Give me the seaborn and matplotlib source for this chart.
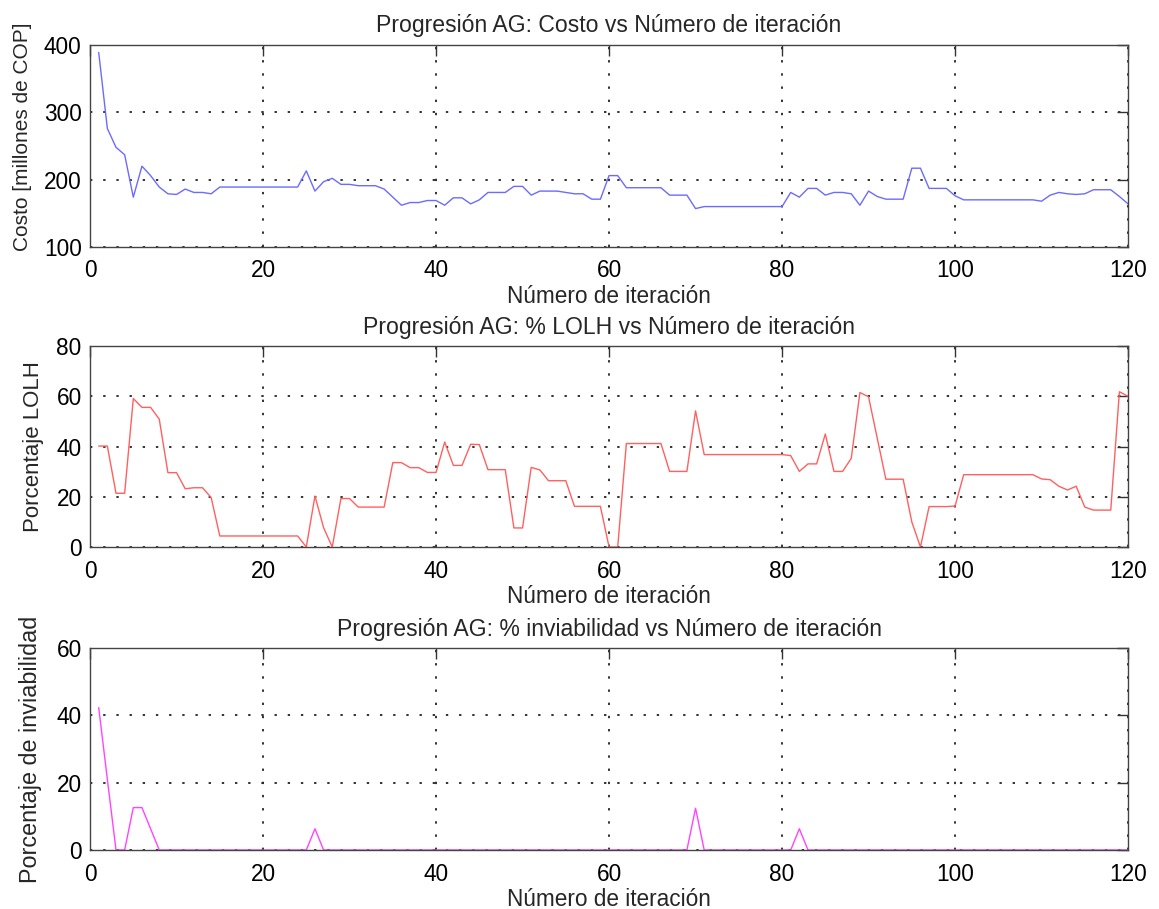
import numpy as np
import pandas as pd
import matplotlib
matplotlib.use("Agg")
import matplotlib.pyplot as plt
import seaborn as sns

iteraciones = list(range(1, 121))

costo = [389, 276, 248, 237, 174, 220, 206, 189, 179, 178,
         186, 181, 181, 179, 189, 189, 189, 189, 189, 189,
         189, 189, 189, 189, 213, 183, 197, 202, 193, 193,
         191, 191, 191, 186, 174, 162, 166, 166, 169, 169,
         162, 173, 173, 164, 170, 181, 181, 181, 190, 190,
         177, 183, 183, 183, 181, 179, 179, 171, 171, 206,
         206, 188, 188, 188, 188, 188, 177, 177, 177, 157,
         160, 160, 160, 160, 160, 160, 160, 160, 160, 160,
         181, 174, 187, 187, 177, 181, 181, 179, 162, 183,
         175, 171, 171, 171, 217, 217, 187, 187, 187, 176,
         170, 170, 170, 170, 170, 170, 170, 170, 170, 168,
         177, 181, 179, 178, 179, 185, 185, 185, 175, 164]

lolh = [40.2, 40.2, 21.4, 21.4, 59.1, 55.6, 55.6, 50.9, 29.6, 29.6,
        23.2, 23.6, 23.6, 19.7, 4.4, 4.4, 4.4, 4.4, 4.4, 4.4,
        4.4, 4.4, 4.4, 4.4, 0.0, 20.3, 7.7, 0.0, 19.3, 19.3,
        15.9, 15.9, 15.9, 15.9, 33.6, 33.6, 31.6, 31.6, 29.7, 29.7,
        41.8, 32.5, 32.5, 40.9, 40.8, 30.8, 30.8, 30.8, 7.6, 7.6,
        31.7, 30.7, 26.4, 26.4, 26.4, 16.2, 16.2, 16.2, 16.2, 0.0,
        0.0, 41.2, 41.2, 41.2, 41.2, 41.2, 30.1, 30.1, 30.1, 54.2,
        36.8, 36.8, 36.8, 36.8, 36.8, 36.8, 36.8, 36.8, 36.8, 36.8,
        36.4, 30.1, 33.1, 33.1, 45.0, 30.1, 30.1, 35.3, 61.5, 59.8,
        43.4, 27.0, 27.0, 27.0, 10.0, 0.0, 16.1, 16.1, 16.1, 16.3,
        28.8, 28.8, 28.8, 28.8, 28.8, 28.8, 28.8, 28.8, 28.8, 27.1,
        26.8, 24.2, 22.7, 24.2, 15.9, 14.7, 14.7, 14.7, 61.8, 60.0]

inviabilidad = [0.0] * 120
for it, v in [(1, 42.3), (2, 21.0), (5, 12.6), (6, 12.6), (7, 6.3),
              (26, 6.3), (70, 12.4), (82, 6.3)]:
    inviabilidad[it - 1] = v

titulos = ["Progresión AG: Costo vs Número de iteración",
           "Progresión AG: % LOLH vs Número de iteración",
           "Progresión AG: % inviabilidad vs Número de iteración"]
ylabels = ["Costo [millones de COP]", "Porcentaje LOLH", "Porcentaje de inviabilidad"]
xlabel = "Número de iteración"
series = [costo, lolh, inviabilidad]
colores = ["#6b6bff", "#ff6060", "#ff44ff"]
ylims = [(100, 400), (0, 80), (0, 60)]
yticks = [[100, 200, 300, 400], [0, 20, 40, 60, 80], [0, 20, 40, 60]]
xticks = [0, 20, 40, 60, 80, 100, 120]

sns.set_theme(style="white")
plt.rcParams["font.family"] = ["Liberation Sans", "DejaVu Sans"]

fig = plt.figure(figsize=(11.59, 9.09), dpi=100)
positions = [[0.0777, 0.7283, 0.8956, 0.2222],
             [0.0777, 0.3982, 0.8956, 0.2211],
             [0.0777, 0.0649, 0.8956, 0.2222]]
ylabel_sizes = [15.0, 16.0, 16.8]
ylabel_y = [0.545, 0.5, 0.5]
ylabel_x = [-0.056, -0.044, -0.046]

fs = 16.3
for i in range(3):
    ax = fig.add_axes(positions[i])
    df = pd.DataFrame({"it": iteraciones, "v": series[i]})
    sns.lineplot(data=df, x="it", y="v", ax=ax, color=colores[i], linewidth=1.0)
    ax.set_xlim(0, 120)
    ax.set_ylim(*ylims[i])
    ax.set_xticks(xticks)
    ax.set_yticks(yticks[i])
    ax.grid(True, linestyle=(0, (1.3, 6.0)), color="#222222", linewidth=1.3)
    ax.tick_params(direction="in", length=8, width=1, top=True, right=True,
                   labelsize=fs, colors="#333333", labelcolor="black", pad=6)
    ax.tick_params(axis="x", pad=9)
    for s in ax.spines.values():
        s.set_color("#444444")
        s.set_linewidth(1.0)
    ax.set_title(titulos[i], fontsize=16.6, pad=9)
    ax.set_xlabel(xlabel, fontsize=fs, labelpad=2)
    ax.set_ylabel(ylabels[i], fontsize=ylabel_sizes[i], labelpad=6)
    ax.yaxis.set_label_coords(ylabel_x[i], ylabel_y[i])

fig.savefig("out.png", dpi=100)
